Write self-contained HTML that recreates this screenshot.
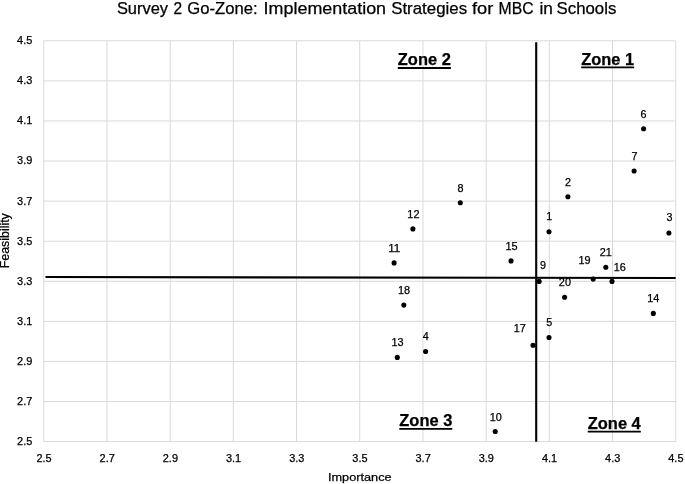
<!DOCTYPE html>
<html lang="en"><head><meta charset="utf-8"><title>Survey 2 Go-Zone</title>
<style>html,body{margin:0;padding:0;background:#fff;}body{width:685px;height:484px;overflow:hidden;}svg{display:block;}text{font-family:"Liberation Sans", Arial, sans-serif;fill:#000;stroke:#000;stroke-width:0.25px;}</style>
</head><body>
<svg width="685" height="484" viewBox="0 0 685 484">
<rect x="0" y="0" width="685" height="484" fill="#fff"/>
<g stroke="#d9d9d9" stroke-width="1" fill="none">
<line x1="43.80" y1="40.80" x2="43.80" y2="441.60"/>
<line x1="106.99" y1="40.80" x2="106.99" y2="441.60"/>
<line x1="170.18" y1="40.80" x2="170.18" y2="441.60"/>
<line x1="233.37" y1="40.80" x2="233.37" y2="441.60"/>
<line x1="296.56" y1="40.80" x2="296.56" y2="441.60"/>
<line x1="359.75" y1="40.80" x2="359.75" y2="441.60"/>
<line x1="422.94" y1="40.80" x2="422.94" y2="441.60"/>
<line x1="486.13" y1="40.80" x2="486.13" y2="441.60"/>
<line x1="549.32" y1="40.80" x2="549.32" y2="441.60"/>
<line x1="612.51" y1="40.80" x2="612.51" y2="441.60"/>
<line x1="675.70" y1="40.80" x2="675.70" y2="441.60"/>
<line x1="43.80" y1="40.80" x2="675.70" y2="40.80"/>
<line x1="43.80" y1="80.88" x2="675.70" y2="80.88"/>
<line x1="43.80" y1="120.96" x2="675.70" y2="120.96"/>
<line x1="43.80" y1="161.04" x2="675.70" y2="161.04"/>
<line x1="43.80" y1="201.12" x2="675.70" y2="201.12"/>
<line x1="43.80" y1="241.20" x2="675.70" y2="241.20"/>
<line x1="43.80" y1="281.28" x2="675.70" y2="281.28"/>
<line x1="43.80" y1="321.36" x2="675.70" y2="321.36"/>
<line x1="43.80" y1="361.44" x2="675.70" y2="361.44"/>
<line x1="43.80" y1="401.52" x2="675.70" y2="401.52"/>
<line x1="43.80" y1="441.60" x2="675.70" y2="441.60"/>
</g>
<g font-size="16.1" stroke-width="0.5">
<text x="116.9" y="14.2" textLength="51.1" lengthAdjust="spacingAndGlyphs">Survey</text>
<text x="173.6" y="14.2" textLength="8.6" lengthAdjust="spacingAndGlyphs">2</text>
<text x="187.2" y="14.2" textLength="70.4" lengthAdjust="spacingAndGlyphs">Go-Zone:</text>
<text x="263.6" y="14.2" textLength="122.5" lengthAdjust="spacingAndGlyphs">Implementation</text>
<text x="391.2" y="14.2" textLength="75.9" lengthAdjust="spacingAndGlyphs">Strategies</text>
<text x="472.0" y="14.2" textLength="21.3" lengthAdjust="spacingAndGlyphs">for</text>
<text x="498.6" y="14.2" textLength="35.0" lengthAdjust="spacingAndGlyphs">MBC</text>
<text x="539.5" y="14.2" textLength="13.4" lengthAdjust="spacingAndGlyphs">in</text>
<text x="556.6" y="14.2" textLength="59.7" lengthAdjust="spacingAndGlyphs">Schools</text>
</g>
<g font-size="10.6" text-anchor="end">
<text x="32.3" y="44.20" textLength="15.2" lengthAdjust="spacingAndGlyphs">4.5</text>
<text x="32.3" y="84.28" textLength="15.2" lengthAdjust="spacingAndGlyphs">4.3</text>
<text x="32.3" y="124.36" textLength="15.2" lengthAdjust="spacingAndGlyphs">4.1</text>
<text x="32.3" y="164.44" textLength="15.2" lengthAdjust="spacingAndGlyphs">3.9</text>
<text x="32.3" y="204.52" textLength="15.2" lengthAdjust="spacingAndGlyphs">3.7</text>
<text x="32.3" y="244.60" textLength="15.2" lengthAdjust="spacingAndGlyphs">3.5</text>
<text x="32.3" y="284.68" textLength="15.2" lengthAdjust="spacingAndGlyphs">3.3</text>
<text x="32.3" y="324.76" textLength="15.2" lengthAdjust="spacingAndGlyphs">3.1</text>
<text x="32.3" y="364.84" textLength="15.2" lengthAdjust="spacingAndGlyphs">2.9</text>
<text x="32.3" y="404.92" textLength="15.2" lengthAdjust="spacingAndGlyphs">2.7</text>
<text x="32.3" y="445.00" textLength="15.2" lengthAdjust="spacingAndGlyphs">2.5</text>
</g>
<g font-size="10.6" text-anchor="middle">
<text x="44.00" y="461.6" textLength="15.2" lengthAdjust="spacingAndGlyphs">2.5</text>
<text x="107.19" y="461.6" textLength="15.2" lengthAdjust="spacingAndGlyphs">2.7</text>
<text x="170.38" y="461.6" textLength="15.2" lengthAdjust="spacingAndGlyphs">2.9</text>
<text x="233.57" y="461.6" textLength="15.2" lengthAdjust="spacingAndGlyphs">3.1</text>
<text x="296.76" y="461.6" textLength="15.2" lengthAdjust="spacingAndGlyphs">3.3</text>
<text x="359.95" y="461.6" textLength="15.2" lengthAdjust="spacingAndGlyphs">3.5</text>
<text x="423.14" y="461.6" textLength="15.2" lengthAdjust="spacingAndGlyphs">3.7</text>
<text x="486.33" y="461.6" textLength="15.2" lengthAdjust="spacingAndGlyphs">3.9</text>
<text x="549.52" y="461.6" textLength="15.2" lengthAdjust="spacingAndGlyphs">4.1</text>
<text x="612.71" y="461.6" textLength="15.2" lengthAdjust="spacingAndGlyphs">4.3</text>
<text x="675.90" y="461.6" textLength="15.2" lengthAdjust="spacingAndGlyphs">4.5</text>
</g>
<text x="328.0" y="481.2" font-size="11.8" textLength="63.6" lengthAdjust="spacingAndGlyphs">Importance</text>
<text transform="translate(9.4 268.2) rotate(-90)" font-size="11.9" textLength="55.0" lengthAdjust="spacingAndGlyphs">Feasibility</text>
<line x1="45.5" y1="277.0" x2="675.7" y2="278.0" stroke="#000" stroke-width="2.1"/>
<line x1="536.2" y1="42.3" x2="536.2" y2="441.7" stroke="#000" stroke-width="2.1"/>
<g font-size="16.2" font-weight="bold">
<text x="397.8" y="65.1" textLength="53.1" lengthAdjust="spacingAndGlyphs">Zone 2</text>
<text x="581.2" y="64.5" textLength="52.9" lengthAdjust="spacingAndGlyphs">Zone 1</text>
<text x="399.3" y="425.9" textLength="53.0" lengthAdjust="spacingAndGlyphs">Zone 3</text>
<text x="587.7" y="428.7" textLength="53.1" lengthAdjust="spacingAndGlyphs">Zone 4</text>
</g>
<g stroke="#000" stroke-width="1.8">
<line x1="397.8" y1="68.0" x2="450.9" y2="68.0"/>
<line x1="581.2" y1="67.4" x2="634.1" y2="67.4"/>
<line x1="399.3" y1="428.8" x2="452.3" y2="428.8"/>
<line x1="587.7" y1="431.6" x2="640.8" y2="431.6"/>
</g>
<g fill="#000">
<circle cx="549.0" cy="231.7" r="2.55"/>
<circle cx="567.9" cy="196.8" r="2.55"/>
<circle cx="668.9" cy="233.0" r="2.55"/>
<circle cx="425.6" cy="351.5" r="2.55"/>
<circle cx="549.0" cy="337.5" r="2.55"/>
<circle cx="643.6" cy="128.8" r="2.55"/>
<circle cx="634.1" cy="171.0" r="2.55"/>
<circle cx="460.3" cy="202.8" r="2.55"/>
<circle cx="539.1" cy="281.4" r="2.55"/>
<circle cx="495.2" cy="431.5" r="2.55"/>
<circle cx="394.1" cy="262.9" r="2.55"/>
<circle cx="412.9" cy="228.9" r="2.55"/>
<circle cx="397.3" cy="357.4" r="2.55"/>
<circle cx="653.3" cy="313.4" r="2.55"/>
<circle cx="511.0" cy="260.9" r="2.55"/>
<circle cx="612.0" cy="281.4" r="2.55"/>
<circle cx="533.0" cy="345.3" r="2.55"/>
<circle cx="403.8" cy="305.1" r="2.55"/>
<circle cx="593.2" cy="279.1" r="2.55"/>
<circle cx="564.6" cy="297.3" r="2.55"/>
<circle cx="605.8" cy="267.2" r="2.55"/>
</g>
<g font-size="10.6" text-anchor="middle">
<text x="549.3" y="219.7" textLength="6.0" lengthAdjust="spacingAndGlyphs">1</text>
<text x="568.1" y="186.0" textLength="6.0" lengthAdjust="spacingAndGlyphs">2</text>
<text x="669.4" y="220.5" textLength="6.0" lengthAdjust="spacingAndGlyphs">3</text>
<text x="425.8" y="340.4" textLength="6.0" lengthAdjust="spacingAndGlyphs">4</text>
<text x="549.3" y="326.4" textLength="6.0" lengthAdjust="spacingAndGlyphs">5</text>
<text x="643.6" y="117.7" textLength="6.0" lengthAdjust="spacingAndGlyphs">6</text>
<text x="634.4" y="159.9" textLength="6.0" lengthAdjust="spacingAndGlyphs">7</text>
<text x="460.5" y="192.0" textLength="6.0" lengthAdjust="spacingAndGlyphs">8</text>
<text x="543.0" y="269.3" textLength="6.0" lengthAdjust="spacingAndGlyphs">9</text>
<text x="495.8" y="420.6" textLength="12.1" lengthAdjust="spacingAndGlyphs">10</text>
<text x="394.3" y="252.1" textLength="12.1" lengthAdjust="spacingAndGlyphs">11</text>
<text x="413.4" y="218.1" textLength="12.1" lengthAdjust="spacingAndGlyphs">12</text>
<text x="397.6" y="346.3" textLength="12.1" lengthAdjust="spacingAndGlyphs">13</text>
<text x="653.3" y="302.1" textLength="12.1" lengthAdjust="spacingAndGlyphs">14</text>
<text x="511.5" y="250.3" textLength="12.1" lengthAdjust="spacingAndGlyphs">15</text>
<text x="619.7" y="271.0" textLength="12.1" lengthAdjust="spacingAndGlyphs">16</text>
<text x="519.8" y="332.1" textLength="12.1" lengthAdjust="spacingAndGlyphs">17</text>
<text x="404.0" y="294.2" textLength="12.1" lengthAdjust="spacingAndGlyphs">18</text>
<text x="584.5" y="264.1" textLength="12.1" lengthAdjust="spacingAndGlyphs">19</text>
<text x="564.9" y="286.4" textLength="12.1" lengthAdjust="spacingAndGlyphs">20</text>
<text x="605.8" y="256.4" textLength="12.1" lengthAdjust="spacingAndGlyphs">21</text>
</g>
</svg>
</body></html>
